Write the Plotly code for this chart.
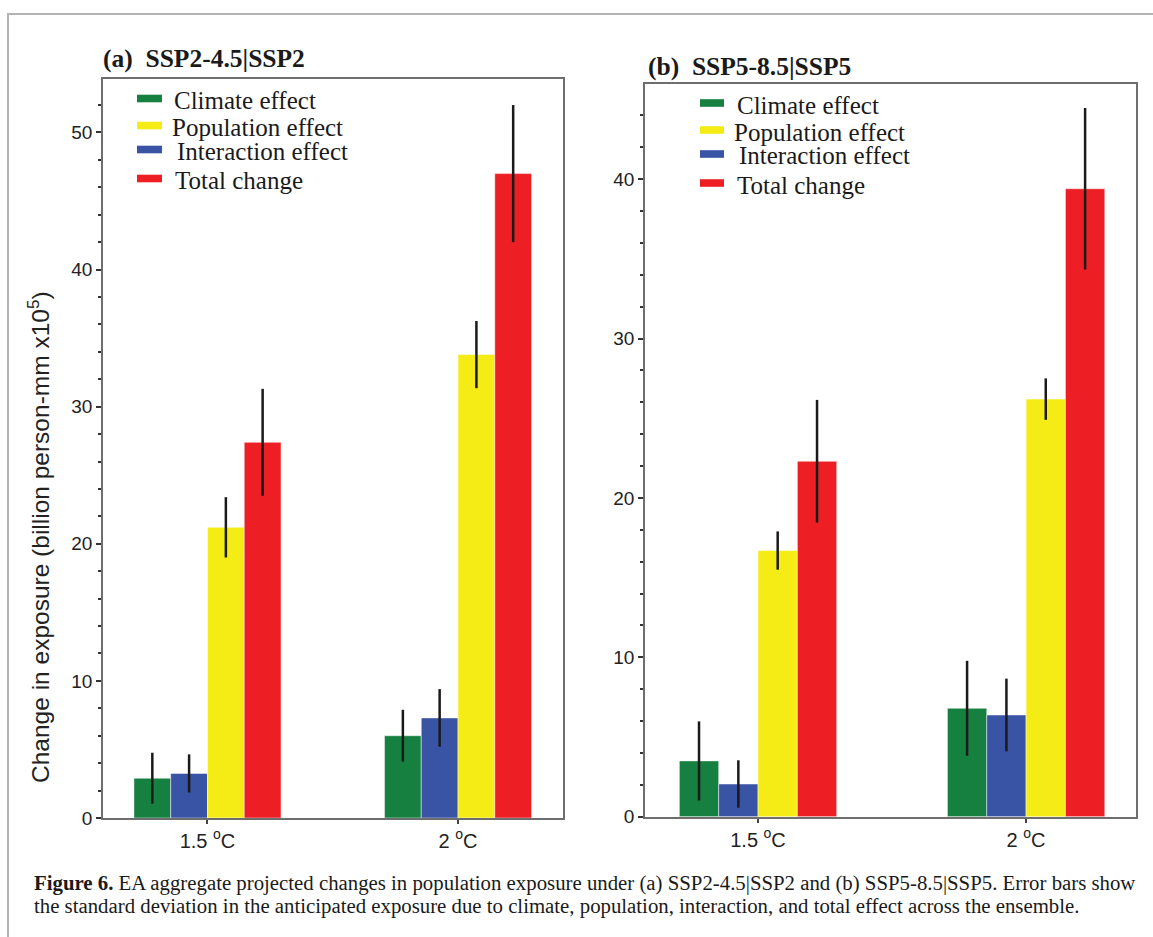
import plotly.graph_objects as go

W, H = 1153, 937
FIG_H = 948  # page height that maps onto the 937-px photograph

# ---------------- data ----------------
categories = ["1.5 <sup>o</sup>C", "2 <sup>o</sup>C"]
series_names = ["Climate effect", "Population effect", "Interaction effect", "Total change"]
series_colors = {"Climate effect": "#15803f", "Population effect": "#f6ec15",
                 "Interaction effect": "#3953a5", "Total change": "#ed1f24"}
bar_order = ["Climate effect", "Interaction effect", "Population effect", "Total change"]

# panel (a) SSP2-4.5|SSP2
a_vals = {"Climate effect": [2.9, 6.0], "Interaction effect": [3.25, 7.3],
          "Population effect": [21.2, 33.8], "Total change": [27.4, 47.0]}
a_err = {"Climate effect": [1.86, 1.89], "Interaction effect": [1.39, 2.1],
         "Population effect": [2.2, 2.45], "Total change": [3.9, 5.0]}
# panel (b) SSP5-8.5|SSP5
b_vals = {"Climate effect": [3.5, 6.8], "Interaction effect": [2.05, 6.38],
          "Population effect": [16.7, 26.2], "Total change": [22.3, 39.4]}
b_err = {"Climate effect": [2.48, 2.98], "Interaction effect": [1.49, 2.28],
         "Population effect": [1.2, 1.3], "Total change": [3.85, 5.07]}

panel_titles = ["(a)  SSP2-4.5|SSP2", "(b)  SSP5-8.5|SSP5"]
y_title = "Change in exposure (billion person-mm x10<sup>5</sup>)"
caption_lines = [
    "<b>Figure 6.</b> EA aggregate projected changes in population exposure under (a) SSP2-4.5|SSP2 "
    "and (b) SSP5-8.5|SSP5. Error bars show",
    "the standard deviation in the anticipated exposure due to climate, population, interaction, "
    "and total effect across the ensemble.",
]

SERIF = "Liberation Serif"
SANS = "Liberation Sans"


def px(x):
    return x / W


def py(y):
    return 1 - y / H


fig = go.Figure()
xpos = [0, 1]
for name in bar_order:
    fig.add_trace(go.Bar(x=xpos, y=a_vals[name], name=name, marker_color=series_colors[name],
                         marker_line=dict(width=0.8, color="rgba(255,255,255,0.6)"),
                         error_y=dict(type="data", array=a_err[name], color="#1a1a1a", thickness=2.5, width=0),
                         xaxis="x", yaxis="y", offsetgroup=name, showlegend=False))
for name in bar_order:
    fig.add_trace(go.Bar(x=xpos, y=b_vals[name], name=name, marker_color=series_colors[name],
                         marker_line=dict(width=0.8, color="rgba(255,255,255,0.6)"),
                         error_y=dict(type="data", array=b_err[name], color="#1a1a1a", thickness=2.5, width=0),
                         xaxis="x2", yaxis="y2", offsetgroup=name, showlegend=False))

axis_line = dict(showline=True, linecolor="#6e6e6e", linewidth=1.6, mirror=True, showgrid=False, zeroline=False)


def xax(dom, rng):
    return dict(domain=dom, range=rng, tickvals=xpos, ticktext=categories, ticks="outside", ticklen=4,
                tickwidth=1.5, tickcolor="#444", ticklabelstandoff=0,
                tickfont=dict(family=SANS, size=20, color="#222"), **axis_line)


def yax(dom, rng, anchor):
    return dict(domain=dom, range=rng, anchor=anchor, dtick=10, ticks="outside", ticklen=5, tickwidth=2,
                tickcolor="#333", tickfont=dict(family=SANS, size=19, color="#222"),
                minor=dict(dtick=2, ticks="outside", ticklen=3, tickwidth=2, tickcolor="#333"),
                **axis_line)


fig.update_layout(
    width=W, height=FIG_H, autosize=False, margin=dict(l=0, r=0, t=0, b=0),
    paper_bgcolor="white", plot_bgcolor="white",
    barmode="group", bargap=0.413, bargroupgap=0,
    xaxis=dict(anchor="y", **xax([px(103), px(563)], [-0.417, 1.419])),
    yaxis=yax([py(818), py(79)], [0, 53.9], "x"),
    xaxis2=dict(anchor="y2", **xax([px(645), px(1136)], [-0.4216, 1.41])),
    yaxis2=yax([py(816.7), py(84)], [0, 45.97], "x2"),
)

shapes = []
annotations = []
# outer frame
shapes.append(dict(type="rect", xref="paper", yref="paper", x0=px(8), x1=px(1175), y0=-0.05, y1=py(14),
                   line=dict(color="#b4b4b4", width=2), fillcolor="rgba(0,0,0,0)", layer="below"))

# panel titles
annotations.append(dict(text="<b>" + panel_titles[0] + "</b>", xref="paper", yref="paper", x=px(101), y=py(58),
                        xanchor="left", yanchor="middle", showarrow=False,
                        font=dict(family=SERIF, size=25.5, color="#1a1a1a")))
annotations.append(dict(text="<b>" + panel_titles[1] + "</b>", xref="paper", yref="paper", x=px(646), y=py(67),
                        xanchor="left", yanchor="middle", showarrow=False,
                        font=dict(family=SERIF, size=25.5, color="#1a1a1a")))

# custom legends
leg_a = dict(sw_x=(137, 162), rows=[98.5, 125.5, 149.5, 178.5], tx=[172, 170, 175, 173])
leg_b = dict(sw_x=(700, 724), rows=[103, 130, 154, 183], tx=[735, 732, 737, 735])
for leg in (leg_a, leg_b):
    for i, name in enumerate(series_names):
        yc = leg["rows"][i]
        shapes.append(dict(type="rect", xref="paper", yref="paper", x0=px(leg["sw_x"][0]), x1=px(leg["sw_x"][1]),
                           y0=py(yc + 3.8), y1=py(yc - 3.8), line=dict(width=0),
                           fillcolor=series_colors[name]))
        annotations.append(dict(text=name, xref="paper", yref="paper", x=px(leg["tx"][i]), y=py(yc + 2),
                                xanchor="left", yanchor="middle", showarrow=False,
                                font=dict(family=SERIF, size=25, color="#1a1a1a")))

# y-axis title
annotations.append(dict(text=y_title, xref="paper", yref="paper", x=px(38), y=py(537), textangle=-90,
                        xanchor="center", yanchor="middle", showarrow=False,
                        font=dict(family=SANS, size=24.5, color="#222")))

# caption
for i, line in enumerate(caption_lines):
    annotations.append(dict(text=line, xref="paper", yref="paper", x=px(32), y=py(883 + 23 * i),
                            xanchor="left", yanchor="middle", align="left", showarrow=False,
                            font=dict(family=SERIF, size=20.8, color="#1a1a1a")))

fig.update_layout(shapes=shapes, annotations=annotations)
post = ("document.documentElement.style.margin='0px';document.documentElement.style.overflow='hidden';"
        "document.body.style.margin='0px';document.body.style.overflow='hidden';")
fig.write_html("out.html", config={"displayModeBar": False, "responsive": False}, post_script=post)
